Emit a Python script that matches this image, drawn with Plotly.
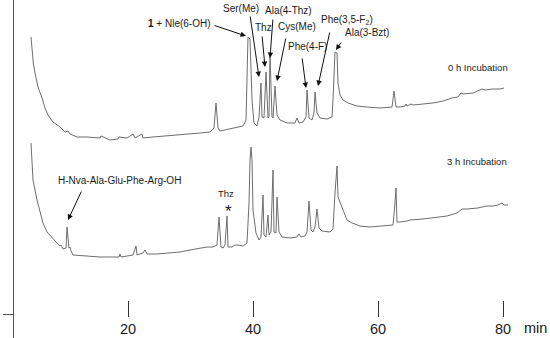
import plotly.graph_objects as go

# ---------------- data (retention time in min, detector signal in a.u.) ----------------
time_0h = [4.48, 4.85, 5.12, 5.6, 6.24, 6.72, 7.2, 8.0, 9.12, 9.92, 10.4, 10.72, 11.84, 13.44,
           15.52, 15.68, 17.12, 18.4, 18.56, 19.84, 20.8, 21.12, 22.24, 22.4, 24.0, 26.24, 28.32,
           30.4, 31.52, 33.12, 33.76, 34.08, 34.4, 34.72, 36.8, 38.4, 38.88, 39.2, 39.52, 39.84,
           40.16, 40.64, 40.96, 41.28, 41.44, 41.76, 42.08, 42.4, 42.56, 42.72, 43.04, 43.2, 43.52,
           43.84, 44.32, 45.44, 46.72, 47.04, 47.36, 48.0, 48.48, 48.64, 48.96, 49.44, 49.76, 49.92,
           50.24, 50.72, 51.84, 52.64, 52.8, 53.12, 53.44, 53.6, 53.92, 54.4, 55.2, 56.64, 58.24,
           60.32, 62.24, 62.56, 62.88, 63.52, 64.32, 64.48, 64.64, 65.12, 65.28, 65.6, 67.2, 68.8,
           70.4, 71.84, 72.8, 73.28, 73.6, 75.2, 76.64, 77.12, 78.4, 79.52, 80.16]
signal_0h = [301, 275, 265, 251, 240, 230, 223, 216, 211, 206, 207, 204, 201, 201,
             200, 202, 198, 199, 201, 200, 204, 200, 204, 200, 201, 202, 203,
             204, 205, 206, 210, 235, 210, 207, 210, 212, 218, 301, 299, 238,
             215, 212, 221, 255, 221, 220, 266, 220, 221, 283, 221, 220, 252,
             223, 218, 215, 215, 220, 215, 216, 221, 248, 220, 218, 225, 246,
             225, 220, 219, 221, 238, 286, 285, 255, 243, 238, 235, 232, 231,
             230, 231, 247, 231, 231, 232, 234, 232, 233, 234, 233, 234, 235,
             237, 240, 241, 245, 244, 245, 249, 248, 249, 249, 250]

time_3h = [4.48, 4.64, 4.8, 5.44, 5.92, 6.4, 7.04, 7.84, 8.64, 9.12, 9.28, 9.6, 10.08, 10.24,
           10.56, 10.72, 10.88, 11.2, 12.8, 15.52, 17.12, 18.56, 18.72, 18.88, 20.8, 21.28, 21.44,
           22.4, 22.72, 23.04, 24.64, 26.24, 28.32, 29.92, 31.52, 32.64, 33.6, 34.24, 34.56, 34.88,
           35.2, 35.52, 35.84, 36.0, 36.64, 37.12, 37.6, 38.4, 39.04, 39.36, 39.52, 39.68, 39.84,
           40.0, 40.48, 40.96, 41.28, 41.6, 41.76, 42.08, 42.4, 42.56, 42.88, 43.2, 43.36, 43.68,
           43.84, 44.16, 44.64, 45.92, 47.04, 47.36, 47.68, 48.32, 48.64, 48.96, 49.28, 49.6, 49.92,
           50.24, 50.56, 51.04, 52.32, 52.8, 53.12, 53.44, 53.6, 53.92, 54.4, 55.04, 55.84, 57.12,
           58.72, 60.8, 62.4, 62.72, 62.88, 63.04, 63.52, 64.64, 65.12, 67.2, 69.44, 71.04, 72.64,
           73.44, 74.24, 75.96, 77.4, 78.4, 79.2, 79.84, 80.16, 80.8]
signal_3h = [195, 178, 158, 138, 125, 115, 106, 100, 95, 92, 93, 89, 90, 111,
             90, 91, 87, 83, 82, 81, 81, 81, 84, 81, 83, 92, 83,
             85, 88, 84, 84, 85, 86, 88, 90, 91, 91, 93, 121, 91,
             90, 93, 122, 91, 91, 93, 93, 92, 95, 135, 178, 191, 178,
             128, 105, 98, 101, 143, 103, 101, 123, 103, 106, 168, 106, 105,
             141, 106, 101, 100, 101, 104, 101, 102, 106, 137, 108, 106, 111,
             129, 110, 107, 106, 109, 145, 172, 141, 136, 128, 118, 115, 112,
             111, 112, 113, 135, 150, 116, 116, 117, 118, 119, 121, 122, 125,
             129, 129, 130, 132, 132, 133, 135, 133, 133]

time_ticks = [20, 40, 60, 80]

W, H = 550, 338
FONT = "Liberation Sans, Arial, sans-serif"
TXT = "#1a1a1a"
LINE = "#6e6e6e"

fig = go.Figure()
fig.add_trace(go.Scatter(x=time_0h, y=signal_0h, mode="lines",
                         line=dict(color=LINE, width=1), hoverinfo="skip", showlegend=False))
fig.add_trace(go.Scatter(x=time_3h, y=signal_3h, mode="lines",
                         line=dict(color=LINE, width=1), hoverinfo="skip", showlegend=False))
# helper (empty) trace to render the signal axis bar
fig.add_trace(go.Scatter(x=[None], y=[None], xaxis="x", yaxis="y2", showlegend=False))


def fy(yp):
    """reference pixel row -> paper fraction"""
    return 1 - yp / H


def fx(xp):
    return xp / W


fig.update_layout(
    width=W, height=H,
    margin=dict(l=0, r=0, t=0, b=0),
    paper_bgcolor="white", plot_bgcolor="white",
    font=dict(family=FONT, color=TXT),
    hovermode=False,
    xaxis=dict(range=[-0.48, 87.52], domain=[0, 1], anchor="free", position=fy(300),
               showgrid=False, zeroline=False, showline=False,
               tickmode="array", tickvals=time_ticks, ticks="outside", ticklen=16,
               tickwidth=1.2, tickcolor="#333", tickfont=dict(size=14.5, color=TXT),
               automargin=False),
    yaxis=dict(range=[0, H], domain=[0, 1], visible=False, fixedrange=True),
    yaxis2=dict(range=[0, 1], domain=[fy(295), fy(37)], anchor="free",
                position=fx(13), overlaying="y", showgrid=False, zeroline=False,
                showline=True, linecolor="#555", linewidth=1.3,
                ticks="outside", ticklen=10, tickwidth=1, tickcolor="#555",
                tickvals=[0.07], showticklabels=False, automargin=False),
)


def label(xp, yp, text, size=10):
    fig.add_annotation(x=fx(xp), y=fy(yp), xref="paper", yref="paper", text=text, showarrow=False,
                       font=dict(size=size, color=TXT, family=FONT), xanchor="center", yanchor="middle")


def arrow(hx, hy, tx, ty):
    fig.add_annotation(x=fx(hx), y=fy(hy), xref="paper", yref="paper", text="", showarrow=True,
                       ax=tx - hx, ay=ty - hy, axref="pixel", ayref="pixel",
                       arrowhead=2, arrowsize=1.1, arrowwidth=1, arrowcolor="#111", standoff=0,
                       startstandoff=0)


label(179, 23, "<b>1</b> + Nle(6-OH)")
arrow(246, 36, 213, 25)
label(241, 8, "Ser(Me)")
arrow(259, 77, 250, 15)
label(263, 28, "Thz")
arrow(265, 67, 262, 35)
label(288, 10, "Ala(4-Thz)")
arrow(270, 58, 273, 18)
label(297, 27, "Cys(Me)")
arrow(277, 81, 286, 37)
label(307, 47, "Phe(4-F)")
arrow(306, 88, 302, 57)
label(347, 20, "Phe(3,5-F<sub>2</sub>)")
arrow(318, 86, 330, 31)
label(367, 33, "Ala(3-Bzt)")
arrow(336, 50, 342, 41)
label(119, 180, "H-Nva-Ala-Glu-Phe-Arg-OH")
arrow(68, 220, 82, 190)
label(226, 193, "Thz", 9.5)
label(228, 211, "*", 17)
label(478, 67, "0 h Incubation", 9.5)
label(477, 161, "3 h Incubation", 9.5)
label(535, 328, "min", 14.5)

# remove the browser's default 8 px body margin so the 550x338 figure fills the window
fig.write_html("out.html", config={"displayModeBar": False},
               post_script="document.body.style.margin='0';")
